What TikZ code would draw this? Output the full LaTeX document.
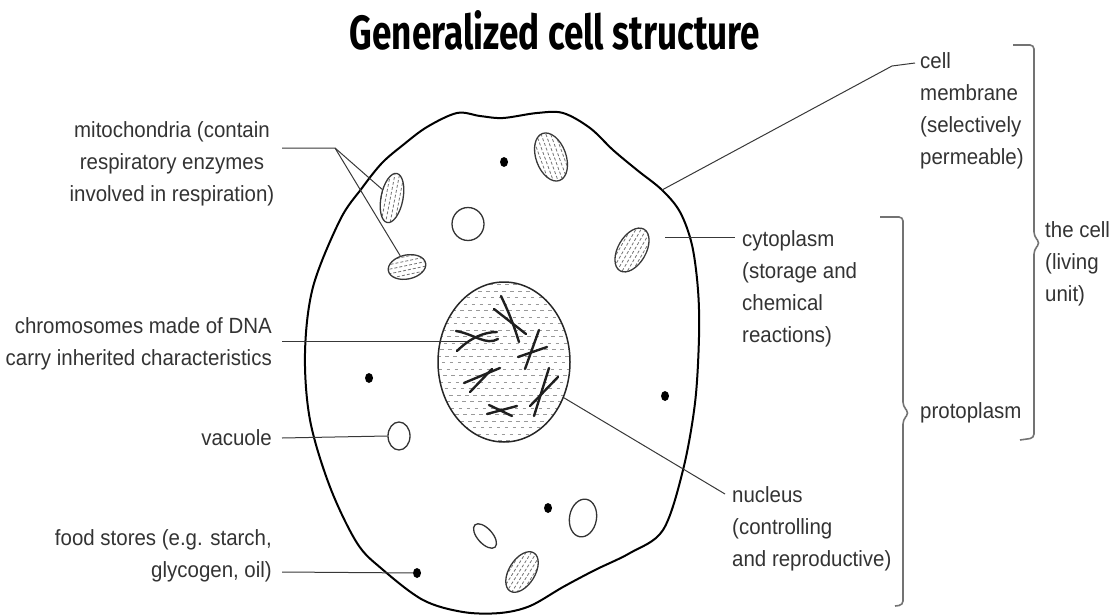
\documentclass[tikz,border=0pt]{standalone}
\usepackage{fontspec}
\usetikzlibrary{shapes.geometric}
\newfontfamily\labfont[FakeStretch=0.93]{Liberation Sans}
\newfontfamily\titlefont{Fira Sans}
\begin{document}
\begin{tikzpicture}[x=1pt,y=-1pt,
  lbl/.style={font=\labfont\fontsize{22}{32}\selectfont, text=black!80, inner sep=0pt},
  leader/.style={draw=black!78, line width=1pt},
  membrane/.style={draw=black, line width=2pt},
  brace/.style={draw=black!55, line width=1.6pt, rounded corners=4pt},
  stipple/.style={path picture={
     \foreach \k [count=\i] in {-84,-77.5,...,84}{
       \pgfmathsetmacro\ph{mod(\i*3.3,8)}
       \draw[black!40, line width=0.7pt, dash pattern=on 3.5pt off 4.5pt, dash phase=\ph pt]
         ([shift={(-80,\k)}]path picture bounding box.center) -- ++(160,0);}}},
  mito/.style={ellipse, draw=black!78, line width=1.3pt, inner sep=0pt, path picture={
     \foreach \k [count=\i] in {-24,-19.5,...,24}{
       \pgfmathsetmacro\ph{mod(\i*2.1,5)}
       \draw[black!55, line width=0.8pt, dash pattern=on 3pt off 2pt, dash phase=\ph pt]
         ([shift={(-30,\k)}]path picture bounding box.center) -- ++(60,0);}}},
  vac/.style={ellipse, draw=black!80, line width=1.3pt, inner sep=0pt},
  food/.style={ellipse, fill=black, inner sep=0pt, minimum width=8pt, minimum height=10pt},
  chrom/.style={draw=black!88, line width=2.4pt, line cap=round}
]
\useasboundingbox (0,0) rectangle (1115,615);

% title
\node[anchor=base] (title) at (555,50)
  {\resizebox{410pt}{39pt}{\titlefont\bfseries Generalized cell structure}};

% cell membrane
\draw[membrane] plot[smooth cycle, tension=0.55] coordinates {
  (340,220) (362,188) (382,163) (403,145) (427,127) (457,113) (480,116) (503,118)
  (537,113) (563,113) (590,128) (613,150) (637,170) (662,190) (680,212) (692,245)
  (698,290) (699,337) (695,403) (683,470) (663,530) (630,553) (595,570) (563,587)
  (530,606) (500,613) (463,612) (423,600) (382,569) (357,543) (330,487) (310,420)
  (305,353) (313,287)};

% nucleus
\node[ellipse, draw=black!85, line width=1.5pt, minimum width=132pt, minimum height=160pt,
      inner sep=0pt, stipple] (nucleus) at (504,362) {};

% chromosomes
\draw[chrom] (501,296) to[bend left=4] (519,342);
\draw[chrom] (494,309) -- (526,334);
\draw[chrom] (456,331) .. controls (474,334) and (486,346) .. (498,339);
\draw[chrom] (457,351) .. controls (470,338) and (484,332) .. (497,332);
\draw[chrom] (518,357) -- (547,347);
\draw[chrom] (539,330) -- (525,369);
\draw[chrom] (464,383) -- (500,368);
\draw[chrom] (470,392) -- (492,369);
\draw[chrom] (487,414) -- (517,406);
\draw[chrom] (489,405) -- (512,416);
\draw[chrom] (530,406) -- (558,377);
\draw[chrom] (534,416) -- (549,368);

% mitochondria
\node[mito, rotate=79,  minimum width=50pt, minimum height=22pt] (mito1) at (392,198) {};
\node[mito, rotate=12,  minimum width=38pt, minimum height=24pt] (mito2) at (407,267) {};
\node[mito, rotate=110, minimum width=50pt, minimum height=30pt] (mito3) at (551,157) {};
\node[mito, rotate=60,  minimum width=48pt, minimum height=28pt] (mito4) at (632,250) {};
\node[mito, rotate=58,  minimum width=45pt, minimum height=26pt] (mito5) at (522,572) {};

% vacuoles
\node[vac, minimum width=32pt, minimum height=33pt] (vac1) at (468,224) {};
\node[vac, minimum width=22pt, minimum height=28pt] (vac2) at (399,436) {};
\node[vac, rotate=-48, minimum width=30pt, minimum height=15pt] (vac3) at (485,536) {};
\node[vac, rotate=80, minimum width=38pt, minimum height=27pt] (vac4) at (583,518) {};

% food stores
\node[food] (dot1) at (504,162) {};
\node[food] (dot2) at (369,378) {};
\node[food] (dot3) at (665,396) {};
\node[food] (dot4) at (548,508) {};
\node[food] (dot5) at (417,573) {};

% labels, left
\node[lbl, align=center, anchor=north] (mitoT) at (172,121)
  {mitochondria (contain\\respiratory enzymes\\involved in respiration)};
\node[lbl, align=right, anchor=north east] (chromT) at (272,317)
  {chromosomes made of DNA\\carry inherited characteristics};
\node[lbl, anchor=base east] (vacT) at (272,445) {vacuole};
\node[lbl, align=right, anchor=north east] (foodT) at (272,529)
  {food stores (e.g. starch,\\glycogen, oil)};

% labels, right
\node[lbl, align=left, anchor=north west] (membT) at (920,52)
  {cell\\membrane\\(selectively\\permeable)};
\node[lbl, align=left, anchor=north west] (cytoT) at (742,230)
  {cytoplasm\\(storage and\\chemical\\reactions)};
\node[lbl, align=left, anchor=north west] (nucT) at (732,486)
  {nucleus\\(controlling\\and reproductive)};
\node[lbl, anchor=base west] (protoT) at (920,418) {protoplasm};
\node[lbl, align=left, anchor=north west] (cellT) at (1045,221)
  {the cell\\(living\\unit)};

% leader ends
\coordinate (mitoL) at (282,148);
\coordinate (mitoJ) at (335,148);
\coordinate (chromL) at (282,341);
\coordinate (chromR) at (467,341);
\coordinate (vacL) at (282,438);
\coordinate (foodL) at (282,572);
\coordinate (membP) at (662,190);
\coordinate (membK) at (892,66);
\coordinate (membR) at (915,63);
\coordinate (cytoP) at (665,237);
\coordinate (cytoR) at (735,237);
\coordinate (nucR) at (725,494);

% leaders
\draw[leader] (mitoL) -- (mitoJ) -- (mito1);
\draw[leader] (mitoJ) -- (mito2);
\draw[leader] (chromL) -- (chromR);
\draw[leader] (vacL) -- (vac2.west);
\draw[leader] (foodL) -- (dot5);
\draw[leader] (membP) -- (membK) -- (membR);
\draw[leader] (cytoP) -- (cytoR);
\draw[leader] (nucleus) -- (nucR);

% brackets
\draw[brace] (880,217) -- (903,217) -- (903,406) -- (909,413) -- (903,420) -- (903,605) -- (895,606);
\draw[brace] (1013,45) -- (1034,45) -- (1034,236) -- (1040,243) -- (1034,250) -- (1034,438) -- (1020,440);
\end{tikzpicture}
\end{document}
